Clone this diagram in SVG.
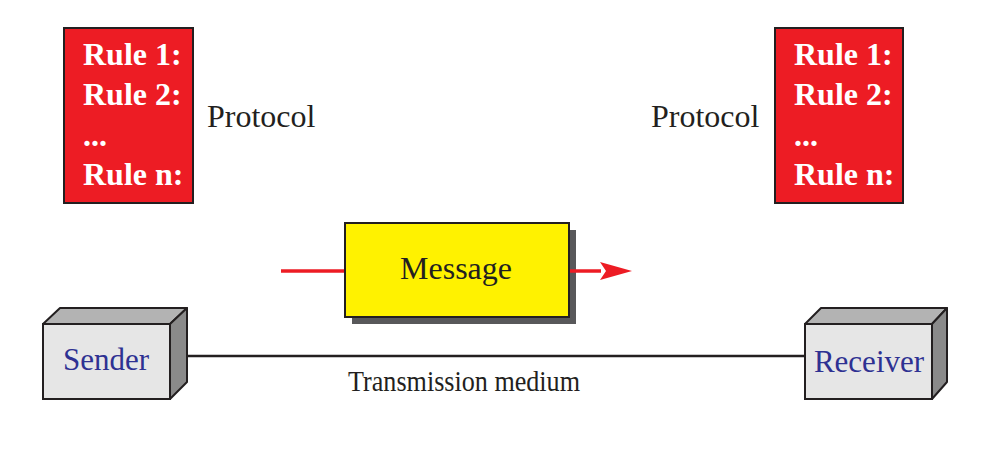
<svg xmlns="http://www.w3.org/2000/svg" width="994" height="472" viewBox="0 0 994 472">
<defs>
<style>
.rule{fill:#ed1c24;stroke:#231f20;stroke-width:2}
.rt{font-family:"Liberation Serif",serif;font-weight:bold;font-size:32px;fill:#fff}
.lbl{font-family:"Liberation Serif",serif;font-size:32px;fill:#231f20}
.dev{font-family:"Liberation Serif",serif;font-size:31px;fill:#2e3192;text-anchor:middle}
.front{fill:#e6e6e6;stroke:#231f20;stroke-width:2}
.top{fill:#b3b3b3;stroke:#231f20;stroke-width:2;stroke-linejoin:round}
.side{fill:#8a8a8a;stroke:#231f20;stroke-width:2;stroke-linejoin:round}
</style>
</defs>
<rect width="994" height="472" fill="#fff"/>

<g id="protocol-left">
<rect class="rule" x="64" y="28" width="129" height="175"/>
<text class="rt" x="83" y="65">Rule 1:</text>
<text class="rt" x="83" y="105">Rule 2:</text>
<text class="rt" x="83" y="146">...</text>
<text class="rt" x="83" y="185">Rule n:</text>
<text class="lbl" x="207" y="127">Protocol</text>
</g>

<g id="protocol-right">
<rect class="rule" x="775" y="28" width="128" height="175"/>
<text class="rt" x="794" y="65">Rule 1:</text>
<text class="rt" x="794" y="105">Rule 2:</text>
<text class="rt" x="794" y="146">...</text>
<text class="rt" x="794" y="185">Rule n:</text>
<text class="lbl" x="651" y="127">Protocol</text>
</g>

<g id="message">
<rect x="352" y="230" width="224" height="94" fill="#58585a"/>
<rect x="345" y="223" width="224" height="94" fill="#fff200" stroke="#231f20" stroke-width="2"/>
<text x="456" y="279" font-family="Liberation Serif,serif" font-size="32" fill="#231f20" text-anchor="middle">Message</text>
</g>

<g id="connectors">
<line x1="281" y1="271" x2="344" y2="271" stroke="#ed1c24" stroke-width="3.5"/>
<line x1="570" y1="271" x2="601" y2="271" stroke="#ed1c24" stroke-width="3.5"/>
<path d="M600,262 L632,271 L600,280 L606,271 Z" fill="#ed1c24"/>
<line x1="187" y1="356" x2="806" y2="356" stroke="#231f20" stroke-width="2.5"/>
<text x="464" y="391" font-family="Liberation Serif,serif" font-size="30" fill="#231f20" text-anchor="middle" textLength="232" lengthAdjust="spacingAndGlyphs">Transmission medium</text>
</g>

<g id="sender">
<polygon class="top" points="43,324 60,308 187,308 170,324"/>
<polygon class="side" points="170,324 187,308 187,382 170,399"/>
<rect class="front" x="43" y="324" width="127" height="75"/>
<text class="dev" x="106" y="370">Sender</text>
</g>

<g id="receiver">
<polygon class="top" points="805,324 821,308 947,308 932,324"/>
<polygon class="side" points="932,324 947,308 947,382 932,399"/>
<rect class="front" x="805" y="324" width="127" height="75"/>
<text class="dev" x="869" y="372">Receiver</text>
</g>
</svg>
